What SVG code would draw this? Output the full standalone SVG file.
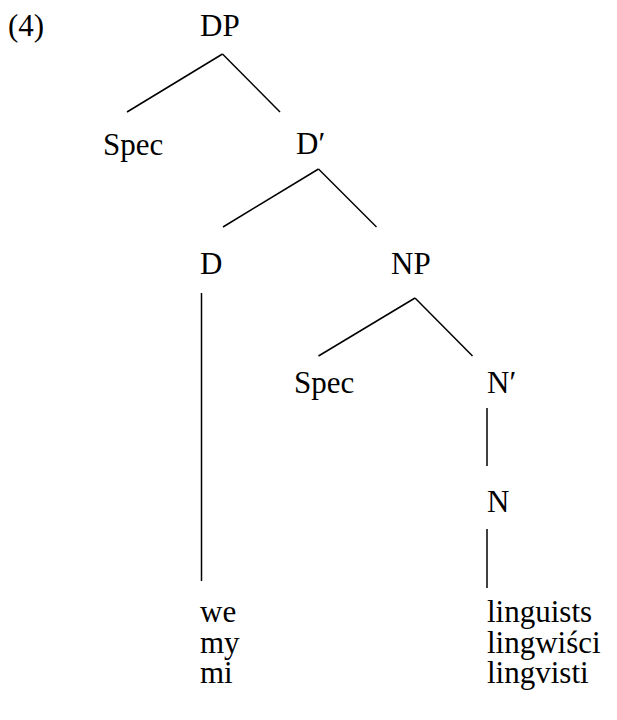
<svg xmlns="http://www.w3.org/2000/svg" width="617" height="720" viewBox="0 0 617 720">
<style>
.t{font-size:31px;fill:#000}
.e line{stroke:#000;stroke-width:1.5;stroke-linecap:butt}
</style>
<rect width="617" height="720" fill="#fff"/>
<g font-family="'Liberation Serif', 'DejaVu Serif', serif" class="t">
<text x="8" y="36">(4)</text>
<g id="DP"><text x="200" y="36">DP</text></g>
<g id="Spec1"><text x="103" y="155">Spec</text></g>
<g id="Dbar"><text x="296" y="154">D′</text></g>
<g id="D"><text x="200" y="274">D</text></g>
<g id="NP"><text x="391" y="274">NP</text></g>
<g id="Spec2"><text x="294" y="393">Spec</text></g>
<g id="Nbar"><text x="487" y="393">N′</text></g>
<g id="N"><text x="487" y="512">N</text></g>
<g id="Dleaf"><text x="200" y="622">we</text><text x="200" y="653">my</text><text x="200" y="683">mi</text></g>
<g id="Nleaf"><text x="487" y="622">linguists</text><text x="487" y="653">lingwiści</text><text x="487" y="683">lingvisti</text></g>
</g>
<g class="e" id="edges">
<line x1="222.5" y1="54" x2="127" y2="112"/>
<line x1="222.5" y1="54" x2="280" y2="112"/>
<line x1="318.5" y1="169" x2="223" y2="227"/>
<line x1="318.5" y1="169" x2="376.5" y2="227"/>
<line x1="415" y1="298" x2="318.5" y2="356"/>
<line x1="415" y1="298" x2="472.5" y2="356"/>
<line x1="201.5" y1="293" x2="201.5" y2="581"/>
<line x1="487" y1="408" x2="487" y2="466"/>
<line x1="487" y1="529" x2="487" y2="588"/>
</g>
</svg>
